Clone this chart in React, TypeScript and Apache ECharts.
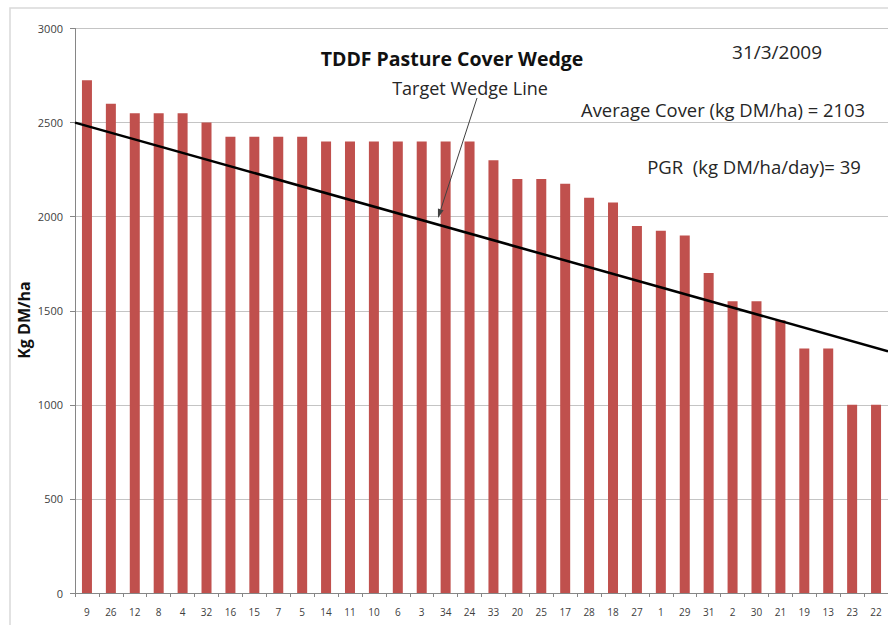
import React, { useEffect, useRef } from "react";
import * as echarts from "echarts";

const paddocks = ["9","26","12","8","4","32","16","15","7","5","14","11","10","6","3","34","24","33","20","25","17","28","18","27","1","29","31","2","30","21","19","13","23","22"];
const cover = [2725,2600,2550,2550,2550,2500,2425,2425,2425,2425,2400,2400,2400,2400,2400,2400,2400,2300,2200,2200,2175,2100,2075,1950,1925,1900,1700,1550,1550,1450,1300,1300,1000,1000];
const wedgeStart = [0, 2500];
const wedgeEnd = [34, 1285];
const yTicks = { min: 0, max: 3000, interval: 500 };

const FONT = "'Open Sans', 'Noto Sans', sans-serif";

export default function App() {
  const ref = useRef<HTMLDivElement>(null);
  useEffect(() => {
    const chart = echarts.init(ref.current!, null, { renderer: "svg" });
    const tip = [438, 218];
    const start = [477, 98];
    const dx = tip[0] - start[0], dy = tip[1] - start[1];
    const len = Math.sqrt(dx * dx + dy * dy);
    const ux = dx / len, uy = dy / len;
    const hl = 9, hw = 3;
    const bx = tip[0] - ux * hl, by = tip[1] - uy * hl;
    const px = -uy * hw, py = ux * hw;
    chart.setOption({
      animation: false,
      backgroundColor: "#ffffff",
      grid: { left: 75, top: 28.5, right: -4, bottom: 32, containLabel: false },
      xAxis: [
        {
          type: "category",
          data: paddocks,
          axisLine: { lineStyle: { color: "#868686" } },
          axisTick: { show: true, length: 4, lineStyle: { color: "#868686" } },
          axisLabel: { color: "#404040", fontFamily: FONT, fontSize: 10, margin: 14, interval: 0 },
        },
        { type: "value", min: 0, max: 34, show: false },
      ],
      yAxis: {
        type: "value",
        min: yTicks.min,
        max: yTicks.max,
        interval: yTicks.interval,
        axisLine: { show: true, lineStyle: { color: "#868686" } },
        axisTick: { show: true, length: 5, lineStyle: { color: "#868686" } },
        axisLabel: { color: "#404040", fontFamily: FONT, fontSize: 11, margin: 12, formatter: (v: number) => String(v) },
        splitLine: { lineStyle: { color: "#c4c4c4" } },
      },
      series: [
        {
          type: "bar",
          data: cover,
          barWidth: 10,
          itemStyle: { color: "#C0504D" },
          xAxisIndex: 0,
        },
        {
          type: "line",
          xAxisIndex: 1,
          data: [wedgeStart, wedgeEnd],
          showSymbol: false,
          symbol: "none",
          lineStyle: { color: "#000000", width: 2.5 },
          z: 5,
        },
      ],
      graphic: [
        { type: "rect", z: 100, shape: { x: 10, y: 8, width: 900, height: 700 }, style: { fill: "none", stroke: "#d9d9d9", lineWidth: 1.5 }, silent: true },
        { type: "text", z: 100, x: 452, y: 58, style: { text: "TDDF Pasture Cover Wedge", font: `bold 19.5px ${FONT}`, fill: "#111", align: "center", verticalAlign: "middle" } },
        { type: "text", z: 100, x: 777, y: 52, style: { text: "31/3/2009", font: `19px ${FONT}`, fill: "#262626", align: "center", verticalAlign: "middle" } },
        { type: "text", z: 100, x: 470, y: 88, style: { text: "Target Wedge Line", font: `18px ${FONT}`, fill: "#262626", align: "center", verticalAlign: "middle" } },
        { type: "text", z: 100, x: 723, y: 109, style: { text: "Average Cover (kg DM/ha) = 2103", font: `18.4px ${FONT}`, fill: "#262626", align: "center", verticalAlign: "middle" } },
        { type: "text", z: 100, x: 754, y: 166, style: { text: "PGR  (kg DM/ha/day)= 39", font: `18.5px ${FONT}`, fill: "#262626", align: "center", verticalAlign: "middle" } },
        { type: "text", z: 100, x: 24, y: 320, rotation: Math.PI / 2, style: { text: "Kg DM/ha", font: `bold 16px ${FONT}`, fill: "#111", align: "center", verticalAlign: "middle" } },
        { type: "line", z: 100, shape: { x1: start[0], y1: start[1], x2: bx, y2: by }, style: { stroke: "#404040", lineWidth: 1 } },
        { type: "polygon", z: 100, shape: { points: [[tip[0], tip[1]], [bx + px, by + py], [bx - px, by - py]] }, style: { fill: "#404040" } },
      ],
    });
    return () => chart.dispose();
  }, []);
  return <div ref={ref} style={{ position: "fixed", left: 0, top: 0, width: 888, height: 625 }} />;
}
